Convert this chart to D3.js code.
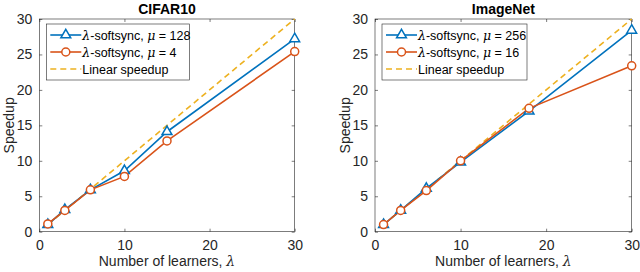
<!DOCTYPE html>
<html>
<head>
<meta charset="utf-8">
<script src="https://cdn.jsdelivr.net/npm/d3@7"></script>
<style>
  body { margin: 0; background: #fff; }
  svg { font-family: "Liberation Sans", Arial, sans-serif; }
</style>
</head>
<body>
<svg id="chart" width="640" height="272"></svg>
<script>
const titles = ["CIFAR10", "ImageNet"]
const cifarX = [1, 3, 6, 10, 15, 30]
const cifarBlue = [1, 3.1, 5.9, 8.6, 14.1, 27.2]
const cifarRed = [1.1, 3.0, 5.9, 7.8, 12.8, 25.4]
const imagenetX = [1, 3, 6, 10, 18, 30]
const imagenetBlue = [1.0, 3.0, 6.1, 9.8, 17.0, 28.4]
const imagenetRed = [1.0, 3.0, 5.8, 10.0, 17.4, 23.4]
const linearX = [1, 30]
const xTicks = [0, 10, 20, 30]
const yTicks = [0, 5, 10, 15, 20, 25, 30]
const legendCifar = ["128", "4"]
const legendImagenet = ["256", "16"]

const blue = "#0072BD", red = "#D95319", gold = "#EDB120"
const axisGray = "#262626"

const svg = d3.select("#chart")

function drawPanel({left, right, title, xs, blueVals, redVals, mus, legendW}) {
    const top = 19, bottom = 231.7
    const x = d3.scaleLinear().domain([0, 30]).range([left, right])
    const y = d3.scaleLinear().domain([0, 30]).range([bottom, top])
    const g = svg.append("g")

    // box
    g.append("rect")
     .attr("x", left).attr("y", top)
     .attr("width", right - left).attr("height", bottom - top)
     .attr("fill", "none").attr("stroke", axisGray).attr("stroke-width", 0.6)

    const tickLen = 3
    const styleAxis = sel => {
        sel.selectAll(".domain").remove()
        sel.selectAll(".tick line").attr("stroke", axisGray).attr("stroke-width", 0.6)
        sel.selectAll(".tick text").attr("fill", axisGray).style("font-size", "14px")
    }
    g.append("g").attr("transform", `translate(0,${bottom})`)
     .call(d3.axisBottom(x).tickValues(xTicks).tickSize(-tickLen).tickPadding(8))
     .call(styleAxis)
    g.append("g").attr("transform", `translate(0,${top})`)
     .call(d3.axisTop(x).tickValues(xTicks).tickSize(-tickLen).tickFormat(""))
     .call(styleAxis)
    g.append("g").attr("transform", `translate(${left},0)`)
     .call(d3.axisLeft(y).tickValues(yTicks).tickSize(-tickLen).tickPadding(7))
     .call(styleAxis)
    g.append("g").attr("transform", `translate(${right},0)`)
     .call(d3.axisRight(y).tickValues(yTicks).tickSize(-tickLen).tickFormat(""))
     .call(styleAxis)

    // title + labels
    g.append("text").text(title)
     .attr("x", (left + right) / 2).attr("y", 14)
     .attr("text-anchor", "middle").attr("font-weight", "bold")
     .style("font-size", "14px").attr("fill", "#000")
    g.append("text").text("Number of learners, ")
     .attr("x", (left + right) / 2).attr("y", 266)
     .attr("text-anchor", "middle").style("font-size", "14px").attr("fill", axisGray)
     .append("tspan").text("λ").attr("font-style", "italic").attr("font-family", "DejaVu Serif")
    g.append("text").text("Speedup")
     .attr("transform", `translate(${left - 25},${(top + bottom) / 2}) rotate(-90)`)
     .attr("text-anchor", "middle").style("font-size", "14px").attr("fill", axisGray)

    const line = d3.line().x(d => x(d[0])).y(d => y(d[1]))

    // linear speedup
    g.append("path").datum(linearX.map(v => [v, v]))
     .attr("d", line).attr("fill", "none")
     .attr("stroke", gold).attr("stroke-width", 1.6).attr("stroke-dasharray", "6,4")

    const blueData = xs.map((v, i) => [v, blueVals[i]])
    const redData = xs.map((v, i) => [v, redVals[i]])

    g.append("path").datum(blueData).attr("d", line)
     .attr("fill", "none").attr("stroke", blue).attr("stroke-width", 1.6)
    g.append("path").datum(redData).attr("d", line)
     .attr("fill", "none").attr("stroke", red).attr("stroke-width", 1.6)

    const tri = d3.symbol().type(d3.symbolTriangle).size(42)
    g.selectAll(".tri").data(blueData).join("path")
     .attr("transform", d => `translate(${x(d[0])},${y(d[1])})`)
     .attr("d", tri).attr("fill", "#fff").attr("stroke", blue).attr("stroke-width", 1.5)
    g.selectAll(".circ").data(redData).join("circle")
     .attr("cx", d => x(d[0])).attr("cy", d => y(d[1])).attr("r", 4)
     .attr("fill", "#fff").attr("stroke", red).attr("stroke-width", 1.5)

    // legend
    const lx = left + 7, ly = 24
    g.append("rect").attr("x", lx).attr("y", ly).attr("width", legendW).attr("height", 56)
     .attr("fill", "#fff").attr("stroke", axisGray).attr("stroke-width", 0.6)
    const rows = [
        {color: blue, marker: "tri", dash: null, mu: mus[0]},
        {color: red, marker: "circ", dash: null, mu: mus[1]},
        {color: gold, marker: null, dash: "6,4", label: "Linear speedup"}
    ]
    rows.forEach((r, i) => {
        const cy = ly + 11 + i * 17
        const x0 = lx + 4, x1 = lx + 35
        g.append("line").attr("x1", x0).attr("x2", x1).attr("y1", cy).attr("y2", cy)
         .attr("stroke", r.color).attr("stroke-width", 1.6)
         .attr("stroke-dasharray", r.dash)
        if (r.marker === "tri") {
            g.append("path").attr("transform", `translate(${(x0 + x1) / 2},${cy})`)
             .attr("d", tri).attr("fill", "#fff").attr("stroke", blue).attr("stroke-width", 1.5)
        } else if (r.marker === "circ") {
            g.append("circle").attr("cx", (x0 + x1) / 2).attr("cy", cy).attr("r", 4)
             .attr("fill", "#fff").attr("stroke", red).attr("stroke-width", 1.5)
        }
        const t = g.append("text").attr("x", x1 + 1).attr("y", cy + 4.5)
         .style("font-size", "12.5px").attr("fill", "#000")
        if (r.label) {
            t.text(r.label)
        } else {
            t.append("tspan").text("λ").attr("font-family", "DejaVu Serif").attr("font-style", "italic")
            t.append("tspan").text("-softsync, ")
            t.append("tspan").text("μ").attr("font-family", "DejaVu Serif").attr("font-style", "italic")
            t.append("tspan").text(" = " + r.mu)
        }
    })
}

drawPanel({left: 39.3, right: 294.7, title: titles[0], xs: cifarX, blueVals: cifarBlue, redVals: cifarRed, mus: legendCifar, legendW: 143})
drawPanel({left: 375, right: 631.7, title: titles[1], xs: imagenetX, blueVals: imagenetBlue, redVals: imagenetRed, mus: legendImagenet, legendW: 145})
</script>
</body>
</html>
